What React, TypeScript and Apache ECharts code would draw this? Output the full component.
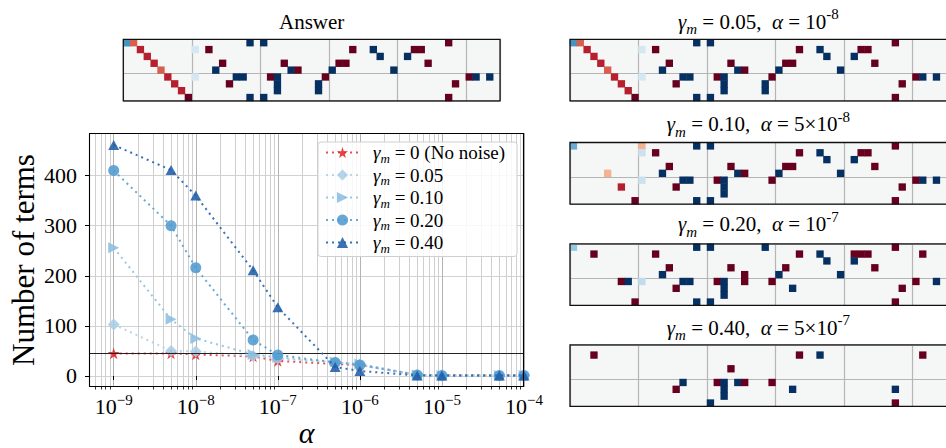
import React, { useEffect, useRef } from 'react';
import * as echarts from 'echarts';

type Cell = [number, number, number]; // [row, column, coefficient]

const SERIF = '"Liberation Serif", "Times New Roman", serif';

// ---- Sweep: number of identified terms against the threshold alpha ----
const alphaValues = [1e-9, 5e-9, 1e-8, 5e-8, 1e-7, 5e-7, 1e-6, 5e-6, 1e-5, 5e-5, 1e-4];
const termsNoNoise = [45, 45, 43, 39, 30, 24, 22, 2, 1, 1, 1];
const terms005 = [103, 50, 49, 40, 35, 27, 23, 2, 1, 1, 1];
const terms010 = [256, 113, 75, 43, 37, 28, 24, 2, 1, 1, 1];
const terms020 = [410, 300, 216, 72, 42, 27, 22, 2, 1, 1, 1];
const terms040 = [461, 411, 360, 211, 137, 18, 10, 1, 1, 1, 1];
const answerTermCount = 45;

const xDecades = [-9, -8, -7, -6, -5, -4];
const minorMultipliers = [2, 3, 4, 5, 6, 7, 8, 9];
const yTicks = [0, 100, 200, 300, 400];

// ---- Sparse coefficient matrices: 9 equations x 55 library terms ----
const N_ROWS = 9;
const N_COLS = 55;

const answerCells: Cell[] = [
  [0, 0, -0.6], [0, 1, 0.6], [0, 18, -1], [0, 20, -1], [0, 47, 1],
  [1, 2, 0.78], [1, 10, -0.18], [1, 12, 1], [1, 33, 1], [1, 36, -1], [1, 42, 1], [1, 43, 1],
  [2, 3, 0.78], [2, 37, -1], [2, 41, -1],
  [3, 4, 0.78], [3, 14, 1], [3, 23, 1], [3, 31, 1], [3, 32, 1], [3, 44, 1],
  [4, 5, 0.6], [4, 13, -1], [4, 24, -1], [4, 25, 1], [4, 30, -1], [4, 39, -1],
  [5, 6, 0.78], [5, 10, -0.18], [5, 16, -1], [5, 17, -1], [5, 21, 1], [5, 22, -1], [5, 29, 1], [5, 50, 1], [5, 51, -1], [5, 53, -1],
  [6, 7, 0.78], [6, 15, 1], [6, 22, -1], [6, 28, -1], [6, 48, 1],
  [7, 8, 0.78], [7, 22, -1], [7, 28, -1],
  [8, 9, 1], [8, 18, -1], [8, 20, -1], [8, 47, 1],
];

const fit005Cells: Cell[] = [
  [0, 0, -0.6], [0, 1, 0.6], [0, 18, -1], [0, 20, -1], [0, 47, 1],
  [1, 2, 0.78], [1, 10, -0.18], [1, 12, 1], [1, 33, 1], [1, 36, -1], [1, 42, 1], [1, 43, 1],
  [2, 3, 0.78], [2, 37, -1], [2, 41, -1],
  [3, 4, 0.78], [3, 14, 1], [3, 23, 1], [3, 31, 1], [3, 32, 1], [3, 44, 1],
  [4, 5, 0.6], [4, 13, -1], [4, 24, -1], [4, 25, 1], [4, 30, -1], [4, 39, -1],
  [5, 6, 0.78], [5, 10, -0.18], [5, 16, -1], [5, 17, -1], [5, 21, 1], [5, 22, -1], [5, 29, 1], [5, 50, 1], [5, 51, -1], [5, 53, -1],
  [6, 7, 0.78], [6, 15, 1], [6, 22, -1], [6, 28, -1], [6, 48, 1],
  [7, 8, 0.78], [7, 22, -1], [7, 28, -1],
  [8, 9, 1], [8, 18, -1], [8, 20, -1], [8, 47, 1],
];

const fit010Cells: Cell[] = [
  [0, 0, -0.5], [0, 10, 0.35], [0, 18, -1], [0, 20, -1], [0, 47, 1],
  [1, 10, -0.22], [1, 12, 1], [1, 33, 1], [1, 36, -1], [1, 42, 1], [1, 43, 1],
  [2, 37, -1], [2, 41, -1],
  [3, 14, 1], [3, 23, 1], [3, 31, 1], [3, 32, 1], [3, 44, 1],
  [4, 5, 0.35], [4, 13, -1], [4, 24, -1], [4, 25, 1], [4, 30, -1], [4, 39, -1],
  [5, 10, -0.22], [5, 16, -1], [5, 17, -1], [5, 21, 1], [5, 22, -1], [5, 29, 1], [5, 50, 1], [5, 51, -1], [5, 53, -1],
  [6, 7, 0.78], [6, 15, 1], [6, 22, -1], [6, 48, 1],
  [7, 22, -1],
  [8, 9, 1], [8, 18, -1], [8, 20, -1], [8, 47, 1],
];

const fit020Cells: Cell[] = [
  [0, 0, -0.38], [0, 18, -1], [0, 20, -1], [0, 28, -1], [0, 47, 1],
  [1, 3, 1], [1, 12, 1], [1, 33, 1], [1, 36, -1], [1, 41, 1], [1, 42, 1], [1, 43, 1], [1, 51, 1],
  [2, 37, -1], [2, 41, -1],
  [3, 14, 1], [3, 23, 1], [3, 31, 1], [3, 44, 1],
  [4, 13, -1], [4, 25, 1], [4, 30, -1], [4, 39, -1],
  [5, 7, 1], [5, 8, -1], [5, 10, -0.25], [5, 16, -1], [5, 17, -1], [5, 21, 1], [5, 22, -1], [5, 25, 1], [5, 29, 1], [5, 50, 1], [5, 53, -1],
  [6, 15, 1], [6, 22, -1], [6, 32, -1], [6, 48, 1],
  [7, 22, -1],
  [8, 9, 1], [8, 18, -1], [8, 20, -1], [8, 47, 1],
];

const fit040Cells: Cell[] = [
  [1, 3, 1], [1, 33, 1], [1, 36, -1], [1, 51, 1],
  [3, 23, 1],
  [5, 16, -1], [5, 21, 1], [5, 22, -1], [5, 24, -1], [5, 25, 1], [5, 29, 1],
  [6, 15, 1], [6, 22, -1], [6, 32, -1], [6, 47, -1],
  [7, 22, -1],
  [8, 20, -1], [8, 47, 1],
];

// RdBu reversed: negative coefficients blue, positive red
const RD_BU_R = ['#053061', '#2166ac', '#4393c3', '#92c5de', '#d1e5f0', '#f7f7f7', '#fddbc7', '#f4a582', '#d6604d', '#b2182b', '#67001f'];

const STAR = 'path://M50,0 L61.2,34.5 L97.6,34.5 L68.2,55.9 L79.4,90.5 L50,69.1 L20.6,90.5 L31.8,55.9 L2.4,34.5 L38.8,34.5 Z';
const RIGHT_TRI = 'path://M0,0 L10,5 L0,10 Z';

const sweepSeries = [
  { name: 'g0', legend: '{g|γ}{sub|m}{t| = 0 (No noise)}', values: termsNoNoise, color: '#e3262b', line: '#e8474a', symbol: STAR, size: [12, 12] },
  { name: 'g005', legend: '{g|γ}{sub|m}{t| = 0.05}', values: terms005, color: '#a9cee7', line: '#b3d4ea', symbol: 'diamond', size: [12, 12] },
  { name: 'g010', legend: '{g|γ}{sub|m}{t| = 0.10}', values: terms010, color: '#8bbfe0', line: '#92c4e3', symbol: RIGHT_TRI, size: [11, 11] },
  { name: 'g020', legend: '{g|γ}{sub|m}{t| = 0.20}', values: terms020, color: '#519bd0', line: '#5ea3d4', symbol: 'circle', size: [11, 11] },
  { name: 'g040', legend: '{g|γ}{sub|m}{t| = 0.40}', values: terms040, color: '#1f5fa8', line: '#2a6bb3', symbol: 'triangle', size: [11, 10] },
];

const panels = [
  { title: 'Answer', cells: answerCells, left: 123.3, top: 39.3, titleY: 21.5 },
  { title: '{g|γ}{sub|m}{t| = 0.05,  }{g|α}{t| = 10}{sup|-8}', cells: fit005Cells, left: 570, top: 39.3, titleY: 21.5 },
  { title: '{g|γ}{sub|m}{t| = 0.10,  }{g|α}{t| = 5×10}{sup|-8}', cells: fit010Cells, left: 570, top: 142.5, titleY: 124 },
  { title: '{g|γ}{sub|m}{t| = 0.20,  }{g|α}{t| = 10}{sup|-7}', cells: fit020Cells, left: 570, top: 243.8, titleY: 224 },
  { title: '{g|γ}{sub|m}{t| = 0.40,  }{g|α}{t| = 5×10}{sup|-7}', cells: fit040Cells, left: 570, top: 344.8, titleY: 327.5 },
];

const CELL = 6.85;

export default function App() {
  const ref = useRef<HTMLDivElement>(null);

  useEffect(() => {
    if (!ref.current) return;
    const chart = echarts.init(ref.current, null, { renderer: 'svg' });

    const LOG_MIN = Math.log10(5e-10);
    const LOG_MAX = -4;
    const minorTicks: number[] = [];
    for (let d = -10; d < -4; d++) {
      for (const m of minorMultipliers) {
        const v = d + Math.log10(m);
        if (v > LOG_MIN + 1e-6 && v < LOG_MAX) minorTicks.push(v);
      }
    }

    const main = { left: 89, top: 133, width: 435, height: 254 };
    const colCats = Array.from({ length: N_COLS }, (_, i) => String(i));
    const rowCats = Array.from({ length: N_ROWS }, (_, i) => String(i));

    const grids: any[] = [
      { ...main, show: false, outerBoundsMode: 'none' },
      ...panels.map((p) => ({
        left: p.left, top: p.top, width: CELL * N_COLS, height: CELL * N_ROWS,
        show: true, backgroundColor: '#f5f6f6', borderWidth: 0, outerBoundsMode: 'none',
      })),
    ];

    const labelRich = {
      b: { fontFamily: SERIF, fontSize: 22, lineHeight: 28, color: '#000' },
      s: { fontFamily: SERIF, fontSize: 15, lineHeight: 20, verticalAlign: 'top', color: '#000' },
    };

    const xAxes: any[] = [
      {
        type: 'value', gridIndex: 0, min: LOG_MIN, max: LOG_MAX, position: 'bottom',
        axisLine: { show: false },
        axisTick: { show: true, customValues: xDecades, length: 4, lineStyle: { color: '#000', width: 1 } },
        axisLabel: {
          show: true, customValues: xDecades, margin: 5,
          formatter: (v: number) => `{b|10}{s|−${Math.abs(Math.round(v))}}`,
          rich: labelRich,
        },
        splitLine: { show: true, lineStyle: { color: '#b3b3b3', width: 1 } },
      },
      {
        type: 'value', gridIndex: 0, min: LOG_MIN, max: LOG_MAX, position: 'top', offset: -main.height,
        axisLine: { show: false },
        axisTick: { show: true, inside: true, customValues: minorTicks, length: 2.5, lineStyle: { color: '#000', width: 0.8 } },
        axisLabel: { show: false },
        splitLine: { show: true, lineStyle: { color: '#cfcfcf', width: 1 } },
      },
      ...panels.map((_, k) => ({
        type: 'category', gridIndex: k + 1, data: colCats, boundaryGap: true,
        axisLine: { show: false }, axisTick: { show: false }, axisLabel: { show: false },
        splitLine: {
          show: true,
          interval: (i: number) => i % 10 === 0,
          lineStyle: { color: '#b5b5b5', width: 1.2 },
        },
      })),
    ];

    const yAxes: any[] = [
      {
        type: 'value', gridIndex: 0, min: -22, max: 485,
        axisLine: { show: false },
        axisTick: { show: true, customValues: yTicks, length: 4, lineStyle: { color: '#000', width: 1 } },
        axisLabel: { show: true, customValues: yTicks, margin: 12, fontFamily: SERIF, fontSize: 22, color: '#000' },
        splitLine: { show: true, lineStyle: { color: '#d2d2d2', width: 1 } },
      },
      ...panels.map((_, k) => ({
        type: 'category', gridIndex: k + 1, data: rowCats, inverse: true, boundaryGap: true,
        axisLine: { show: false }, axisTick: { show: false }, axisLabel: { show: false },
        splitLine: {
          show: true,
          interval: (i: number) => i === 0 || i === 5,
          lineStyle: { color: '#b5b5b5', width: 1.2 },
        },
      })),
    ];

    const lineSeries = sweepSeries.map((s, idx) => ({
      type: 'line',
      name: s.name,
      xAxisIndex: 0,
      yAxisIndex: 0,
      data: alphaValues.map((a, i) => [Math.log10(a), s.values[i]]),
      symbol: s.symbol,
      symbolSize: s.size,
      symbolKeepAspect: true,
      showSymbol: true,
      silent: true,
      itemStyle: { color: s.color, opacity: 0.88 },
      lineStyle: { color: s.line, width: 2, type: [2, 4], opacity: 0.95 },
      markLine: idx === 0 ? {
        silent: true, symbol: 'none', label: { show: false },
        lineStyle: { color: '#222', width: 1.2, type: 'solid' },
        data: [{ yAxis: answerTermCount }],
      } : undefined,
      z: 3 + idx,
    }));

    const heatSeries = panels.map((p, k) => ({
      type: 'heatmap',
      xAxisIndex: k + 2,
      yAxisIndex: k + 1,
      data: p.cells.map(([r, c, v]) => [c, r, v]),
      itemStyle: { borderWidth: 0 },
      silent: true,
    }));

    const titleRich = {
      t: { fontFamily: SERIF, fontSize: 21, lineHeight: 30, fill: '#000' },
      g: { fontFamily: SERIF, fontStyle: 'italic', fontSize: 21, lineHeight: 30, fill: '#000' },
      sub: { fontFamily: SERIF, fontStyle: 'italic', fontSize: 15, verticalAlign: 'bottom', fill: '#000' },
      sup: { fontFamily: SERIF, fontSize: 15, lineHeight: 16, verticalAlign: 'top', fill: '#000' },
    };

    const graphics: any[] = [
      // plot frame
      {
        type: 'rect', z: 100, silent: true,
        shape: { x: main.left + 0.5, y: main.top + 0.5, width: main.width - 1, height: main.height - 1 },
        style: { fill: 'transparent', stroke: '#000', lineWidth: 1.1 },
      },
      ...panels.map((p) => ({
        type: 'rect', z: 100, silent: true,
        shape: { x: p.left, y: p.top, width: CELL * N_COLS, height: CELL * N_ROWS },
        style: { fill: 'transparent', stroke: '#111', lineWidth: 1.3 },
      })),
      ...panels.map((p) => ({
        type: 'text', z: 100, silent: true,
        x: p.left + (CELL * N_COLS) / 2, y: p.titleY,
        style: p.title.includes('{')
          ? { text: p.title, rich: titleRich, align: 'center', verticalAlign: 'middle', fontFamily: SERIF, fontSize: 21, fill: '#000' }
          : { text: p.title, align: 'center', verticalAlign: 'middle', fontFamily: SERIF, fontSize: 21, fill: '#000' },
      })),
      {
        type: 'text', z: 100, silent: true, x: 23, y: main.top + main.height / 2, rotation: Math.PI / 2,
        style: { text: 'Number of terms', fontFamily: SERIF, fontSize: 31, fill: '#000', align: 'center', verticalAlign: 'middle' },
      },
      {
        type: 'text', z: 100, silent: true, x: main.left + main.width / 2, y: 447,
        style: { text: 'α', fontFamily: SERIF, fontStyle: 'italic', fontSize: 30, fill: '#000', align: 'center', verticalAlign: 'bottom' },
      },
    ];

    const legendText: Record<string, string> = {};
    sweepSeries.forEach((s) => { legendText[s.name] = '{pad| }' + s.legend; });

    chart.setOption({
      animation: false,
      backgroundColor: '#ffffff',
      grid: grids,
      xAxis: xAxes,
      yAxis: yAxes,
      visualMap: {
        type: 'continuous', show: false, min: -1, max: 1, dimension: 2,
        seriesIndex: heatSeries.map((_, k) => k + lineSeries.length),
        inRange: { color: RD_BU_R },
      },
      legend: {
        data: sweepSeries.map((s) => s.name),
        orient: 'vertical',
        left: 318, top: 142,
        itemWidth: 33, itemHeight: 14, itemGap: 1,
        padding: [1, 12, 2, 7],
        backgroundColor: 'rgba(255,255,255,0.85)',
        borderColor: '#cfcfcf', borderWidth: 1, borderRadius: 3,
        selectedMode: false,
        formatter: (name: string) => legendText[name],
        textStyle: {
          fontFamily: SERIF, fontSize: 19, color: '#000',
          rich: {
            pad: { width: 9, fontSize: 10 },
            t: { fontFamily: SERIF, fontSize: 19, lineHeight: 24, color: '#000' },
            g: { fontFamily: SERIF, fontStyle: 'italic', fontSize: 19, lineHeight: 24, color: '#000' },
            sub: { fontFamily: SERIF, fontStyle: 'italic', fontSize: 13, verticalAlign: 'bottom', color: '#000' },
          },
        },
      },
      graphic: graphics,
      series: [...lineSeries, ...heatSeries],
    });

    return () => chart.dispose();
  }, []);

  return (
    <div
      ref={ref}
      style={{ position: 'fixed', left: 0, top: 0, width: 946, height: 448, background: '#fff' }}
    />
  );
}
